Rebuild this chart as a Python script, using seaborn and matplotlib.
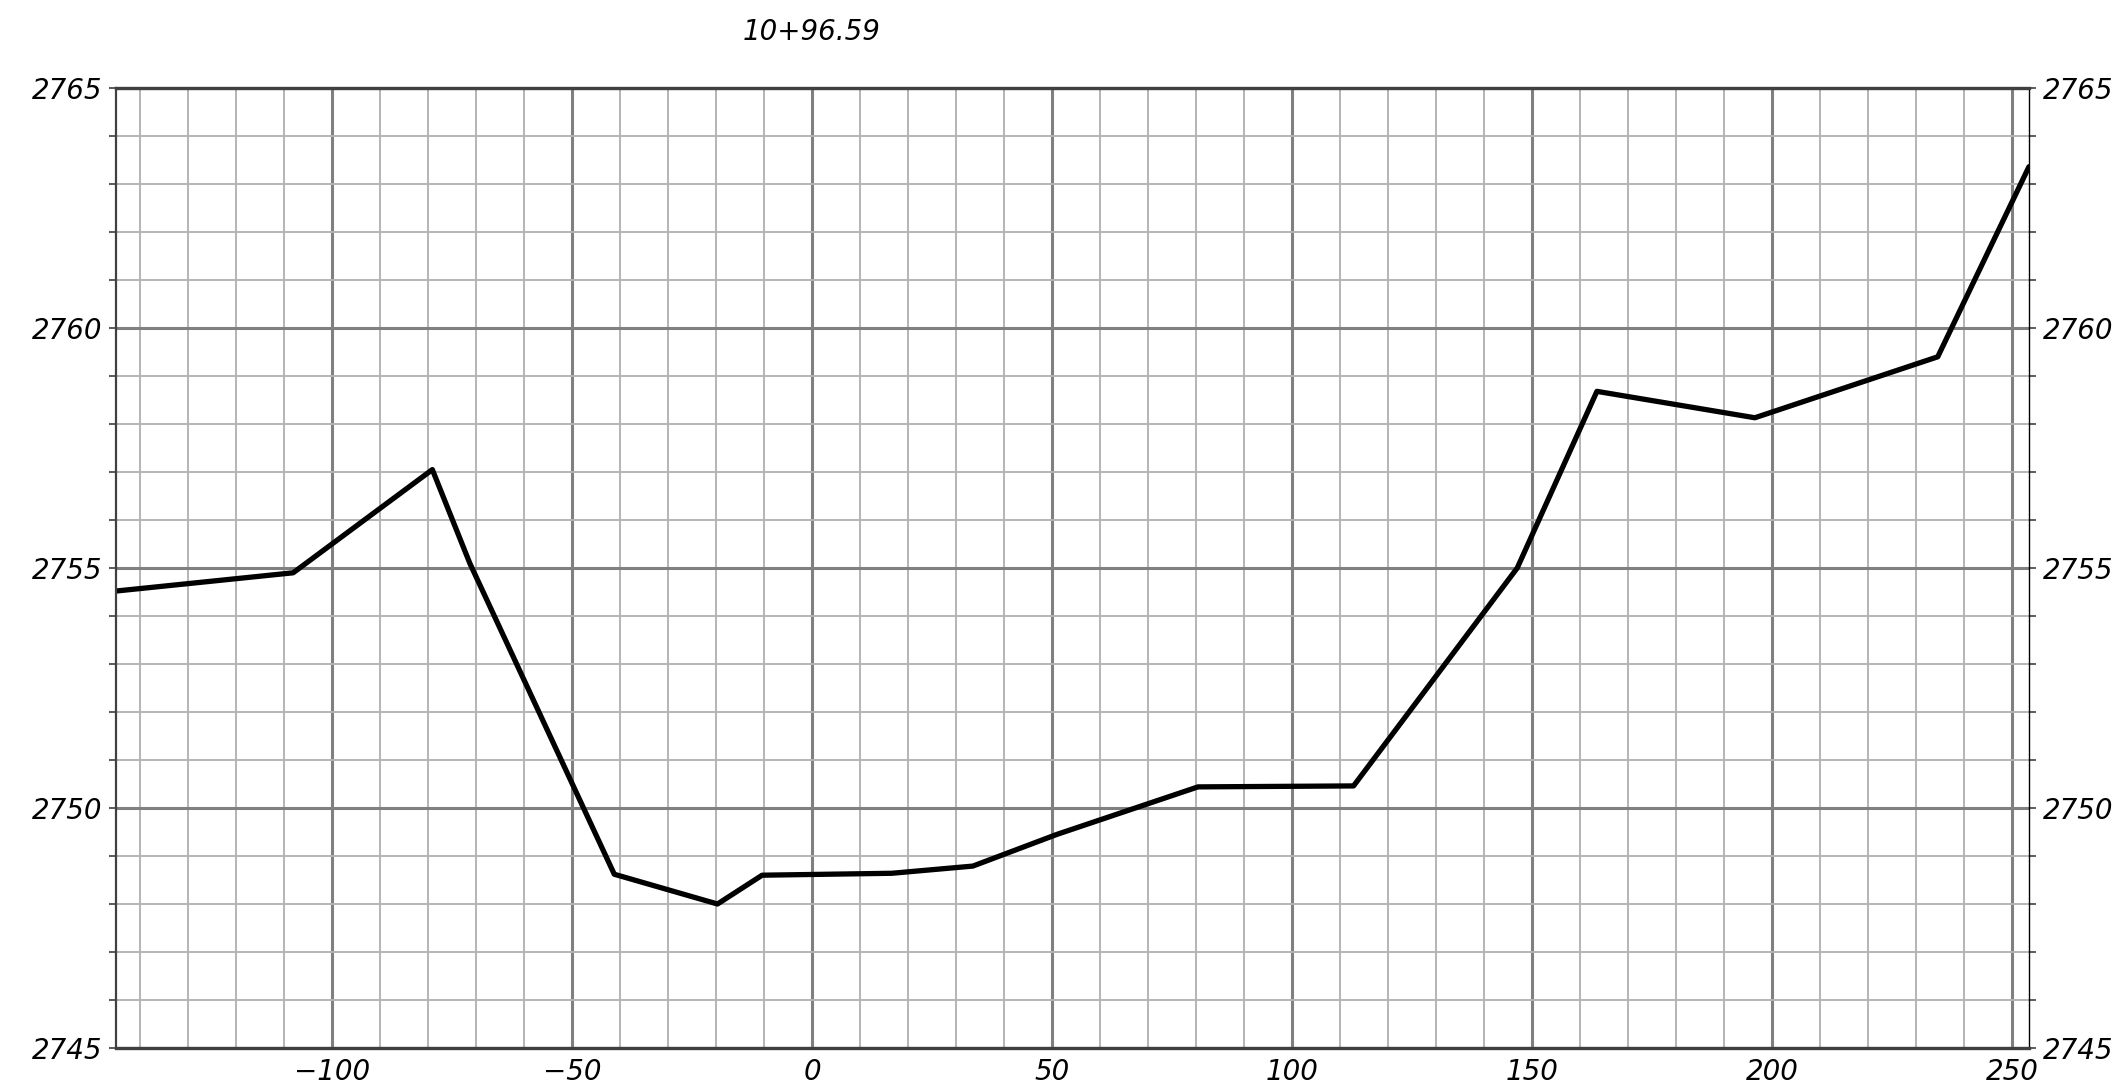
# Cross-section profile at station 10+96.59

import numpy as np
import pandas as pd
import matplotlib
matplotlib.use('Agg')
import matplotlib.pyplot as plt
import seaborn as sns

station_label = '10+96.59'

# offset from centerline and ground elevation
offset = [-145.0, -108.1, -79.1, -71.3, -41.2, -19.7, -10.4, 16.6, 33.5,
          51.0, 80.4, 112.8, 146.9, 163.5, 196.4, 234.5, 253.5]
elevation = [2754.52, 2754.90, 2757.05, 2755.10, 2748.62, 2748.00, 2748.60,
             2748.64, 2748.79, 2749.45, 2750.44, 2750.46, 2755.00, 2758.68,
             2758.13, 2759.40, 2763.36]

x_major = [-100, -50, 0, 50, 100, 150, 200, 250]
y_major = [2745, 2750, 2755, 2760, 2765]

sns.set_theme(style='white')
plt.rcParams['font.family'] = ['DejaVu Sans']
plt.rcParams['font.style'] = 'italic'
plt.rcParams['text.color'] = 'black'
plt.rcParams['xtick.labelcolor'] = 'black'
plt.rcParams['ytick.labelcolor'] = 'black'
plt.rcParams['axes.unicode_minus'] = True

df = pd.DataFrame({'offset': offset, 'elevation': elevation})

fig = plt.figure(figsize=(21.23, 10.82), dpi=100)
ax = fig.add_axes([0.05464, 0.03142, 0.90106, 0.88725])

sns.lineplot(data=df, x='offset', y='elevation', sort=False, color='black',
             linewidth=3.8, ax=ax)

ax.set_xlim(-145, 253.5)
ax.set_ylim(2745, 2765)
ax.set_xticks(x_major)
ax.set_xticks(np.arange(-140, 254, 10), minor=True)
ax.set_yticks(y_major)
ax.set_yticks(np.arange(2745, 2766, 1), minor=True)

ax.grid(which='minor', color='#b4b4b4', linewidth=1.4)
ax.grid(which='major', color='#808080', linewidth=2.2)
ax.set_axisbelow(True)

ax.tick_params(axis='x', which='both', length=0, pad=7, labelsize=20,
               labelcolor='black')
ax.tick_params(axis='y', which='both', left=True, right=True,
               labelleft=True, labelright=True, direction='out',
               length=5, width=1.2, color='#404040', pad=5, labelsize=20,
               labelcolor='black')
ax.set_xlabel('')
ax.set_ylabel('')

for side in ['top', 'bottom']:
    ax.spines[side].set_color('#404040')
    ax.spines[side].set_linewidth(2.4)
ax.spines['left'].set_color('#404040')
ax.spines['left'].set_linewidth(1.6)
ax.spines['right'].set_color('black')
ax.spines['right'].set_linewidth(1.0)

# station label centered over the centerline
ax.text(0, 1.05, station_label, transform=ax.get_xaxis_transform(),
        ha='center', va='baseline', fontsize=20, color='black')

plt.savefig('out.png', dpi=100)
plt.close()
